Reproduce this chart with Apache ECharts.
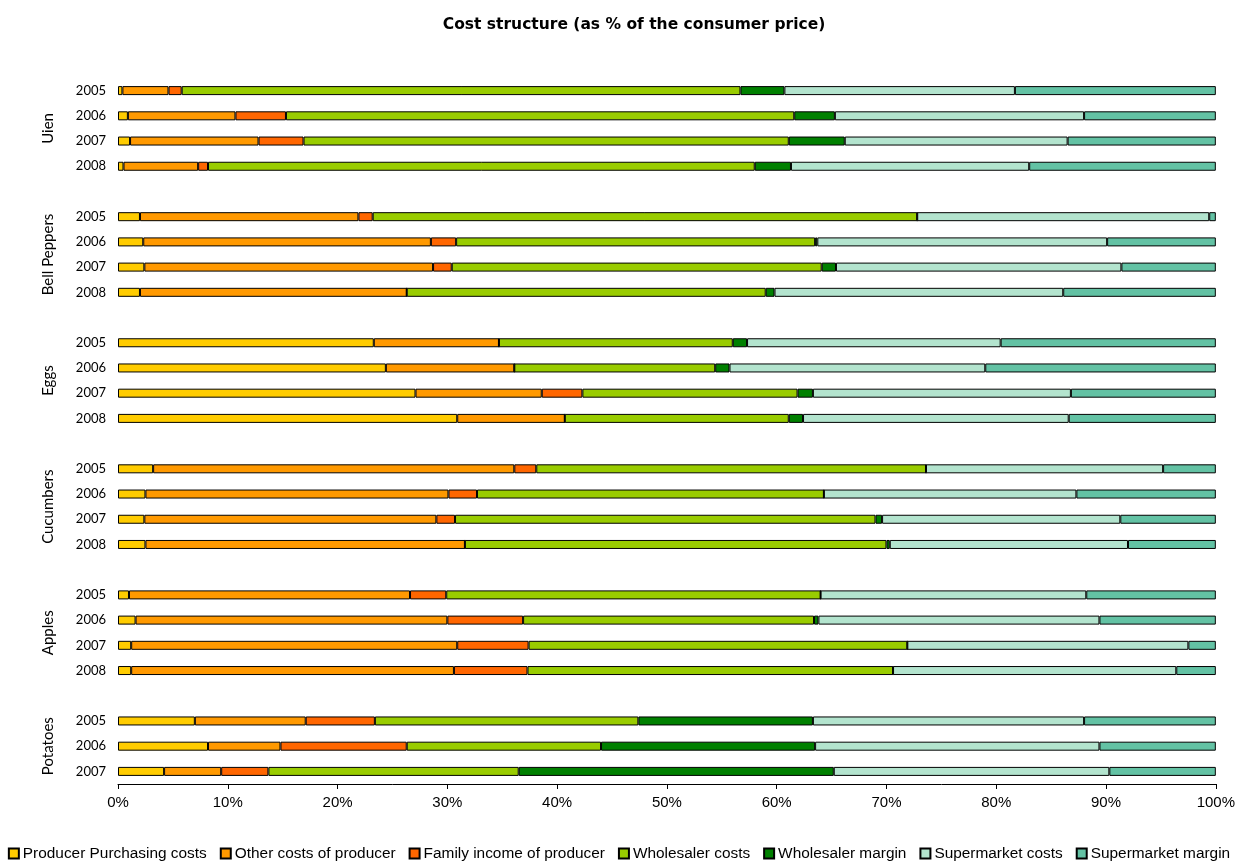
<!DOCTYPE html>
<html>
<head>
<meta charset="utf-8">
<title>Cost structure</title>
<script src="https://cdn.jsdelivr.net/npm/echarts@6/dist/echarts.min.js"></script>
<style>
  html, body { margin: 0; padding: 0; background: #fff; }
  #chart { width: 1238px; height: 861px; }
</style>
</head>
<body>
<div id="chart"></div>
<script>
// Products and the years shown for each of them (top to bottom)
const products = ['Uien', 'Bell Peppers', 'Eggs', 'Cucumbers', 'Apples', 'Potatoes'];
const productYears = [
  ['2005', '2006', '2007', '2008'],
  ['2005', '2006', '2007', '2008'],
  ['2005', '2006', '2007', '2008'],
  ['2005', '2006', '2007', '2008'],
  ['2005', '2006', '2007', '2008'],
  ['2005', '2006', '2007']
];

// Share of the consumer price (%), one value per product-year row, same order as above
const producerPurchasing = [0.4, 0.9, 1.1, 0.5,  2.0, 2.3, 2.4, 2.0,  23.3, 24.4, 27.1, 30.9,  3.2, 2.5, 2.4, 2.5,  1.0, 1.6, 1.2, 1.2,  7.0, 8.2, 4.2];
const otherProducerCosts = [4.2, 9.8, 11.7, 6.8,  19.9, 26.2, 26.3, 24.3,  11.4, 11.7, 11.5, 9.8,  32.9, 27.6, 26.6, 29.1,  25.6, 28.4, 29.7, 29.4,  10.1, 6.6, 5.2];
const familyIncome = [1.2, 4.6, 4.1, 0.9,  1.3, 2.3, 1.7, 0,  0, 0, 3.7, 0,  2.0, 2.6, 1.7, 0,  3.3, 6.9, 6.5, 6.7,  6.3, 11.5, 4.3];
const wholesalerCosts = [50.9, 46.3, 44.2, 49.8,  49.6, 32.7, 33.7, 32.7,  21.3, 18.3, 19.6, 20.4,  35.5, 31.6, 38.3, 38.4,  34.1, 26.5, 34.5, 33.3,  24.0, 17.7, 22.8];
const wholesalerMargin = [4.0, 3.7, 5.1, 3.3,  0, 0.2, 1.3, 0.8,  1.3, 1.3, 1.4, 1.3,  0, 0, 0.6, 0.3,  0, 0.4, 0, 0,  15.9, 19.5, 28.7];
const supermarketCosts = [21.0, 22.7, 20.3, 21.7,  26.6, 26.4, 26.0, 26.3,  23.1, 23.3, 23.5, 24.2,  21.6, 23.0, 21.7, 21.7,  24.2, 25.6, 25.6, 25.8,  24.7, 25.9, 25.1];
const supermarketMargin = [18.3, 12.0, 13.5, 17.0,  0.6, 9.9, 8.6, 13.9,  19.6, 21.0, 13.2, 13.4,  4.8, 12.7, 8.7, 8.0,  11.8, 10.6, 2.5, 3.6,  12.0, 10.6, 9.7];

// X axis ticks
const xTicks = [0, 10, 20, 30, 40, 50, 60, 70, 80, 90, 100];

const seriesDefs = [
  { name: 'Producer Purchasing costs', values: producerPurchasing, color: '#FFCC00' },
  { name: 'Other costs of producer',   values: otherProducerCosts, color: '#FF9900' },
  { name: 'Family income of producer', values: familyIncome,       color: '#FF6600' },
  { name: 'Wholesaler costs',          values: wholesalerCosts,    color: '#99CC00' },
  { name: 'Wholesaler margin',         values: wholesalerMargin,   color: '#008000' },
  { name: 'Supermarket costs',         values: supermarketCosts,   color: '#B3E4CE' },
  { name: 'Supermarket margin',        values: supermarketMargin,  color: '#63C2A4' }
];

// Category rows: product|year, with one blank row between products
const categories = [];
const rowIndex = [];      // category index for each data row
const groupRows = [];     // first and last category per product
products.forEach((p, pi) => {
  if (pi > 0) categories.push('gap' + pi);
  const first = categories.length;
  productYears[pi].forEach(y => {
    rowIndex.push(categories.length);
    categories.push(p + '|' + y);
  });
  groupRows.push([categories[first], categories[categories.length - 1]]);
});

function toCategoryData(values) {
  const out = categories.map(() => null);
  values.forEach((v, i) => { out[rowIndex[i]] = v; });
  return out;
}

const chart = echarts.init(document.getElementById('chart'));
const baseFont = 'Liberation Sans, Arial, sans-serif';
const labelFont = 'Lato, Open Sans, sans-serif';

chart.setOption({
  animation: false,
  backgroundColor: '#fff',
  title: {
    text: 'Cost structure (as % of the consumer price)',
    left: 629,
    textAlign: 'center',
    top: 12,
    textStyle: { fontFamily: 'DejaVu Sans, Verdana, sans-serif', fontSize: 15.5, fontWeight: 'bold', color: '#000' }
  },
  legend: {
    top: 841,
    left: 'center',
    itemWidth: 10,
    itemHeight: 10,
    itemGap: 13,
    icon: 'rect',
    textStyle: { fontFamily: baseFont, fontSize: 15.4, color: '#000', padding: [0, 0, 0, -1] },
    data: seriesDefs.map(s => s.name)
  },
  grid: { left: 118, right: 22, top: 78, bottom: 77, containLabel: false },
  xAxis: {
    type: 'value',
    min: xTicks[0],
    max: xTicks[xTicks.length - 1],
    interval: xTicks[1] - xTicks[0],
    axisLine: { show: true, lineStyle: { color: '#000', width: 1 } },
    axisTick: { show: true, length: 5, lineStyle: { color: '#000' } },
    splitLine: { show: false },
    axisLabel: {
      formatter: v => v + '%',
      fontFamily: baseFont,
      fontSize: 15,
      color: '#000',
      margin: 11
    }
  },
  yAxis: {
    type: 'category',
    inverse: true,
    data: categories,
    axisLine: { show: false },
    axisTick: { show: false },
    axisLabel: {
      formatter: v => (v.indexOf('|') >= 0 ? v.split('|')[1] : ''),
      fontFamily: labelFont,
      fontSize: 13,
      color: '#000',
      margin: 12,
      interval: 0
    }
  },
  series: seriesDefs.map(s => ({
    name: s.name,
    type: 'bar',
    stack: 'total',
    barWidth: 9,
    data: toCategoryData(s.values),
    itemStyle: { color: s.color, borderColor: '#000', borderWidth: 1 },
    emphasis: { disabled: true }
  }))
});

// Product names, rotated, centred on each product's rows
const groupLabels = products.map((p, i) => {
  const y1 = chart.convertToPixel({ yAxisIndex: 0 }, groupRows[i][0]);
  const y2 = chart.convertToPixel({ yAxisIndex: 0 }, groupRows[i][1]);
  return {
    type: 'text',
    x: 48,
    y: (y1 + y2) / 2,
    rotation: Math.PI / 2,
    style: {
      text: p,
      fontFamily: labelFont,
      fontSize: 15,
      fill: '#000',
      align: 'center',
      verticalAlign: 'middle'
    }
  };
});
chart.setOption({ graphic: groupLabels });
</script>
</body>
</html>
